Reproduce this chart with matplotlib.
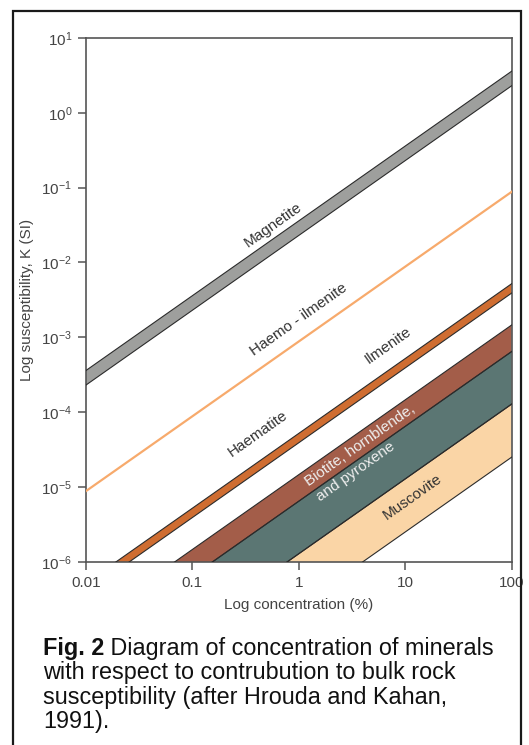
import matplotlib
matplotlib.use("Agg")
import matplotlib.pyplot as plt
from matplotlib.patches import Rectangle
import numpy as np

plt.rcParams["font.family"] = ["Liberation Sans", "DejaVu Sans"]
plt.rcParams["mathtext.fontset"] = "custom"
plt.rcParams["mathtext.rm"] = "Liberation Sans"
plt.rcParams["mathtext.it"] = "Liberation Sans:italic"
plt.rcParams["mathtext.bf"] = "Liberation Sans:bold"
plt.rcParams["axes.unicode_minus"] = False

# susceptibility of each mineral at 100 % concentration (edges of the bands)
magnetite_k = (2.3, 3.6)
haemo_ilmenite_k = 0.088
ilmenite_k = (3.9e-3, 5.2e-3)
biotite_k = (6.45e-4, 1.46e-3)
hornblende_k = (1.28e-4, 6.45e-4)
muscovite_k = (2.5e-5, 1.28e-4)

x_ticks = [0.01, 0.1, 1, 10, 100]
x_tick_labels = ["0.01", "0.1", "1", "10", "100"]
y_ticks = [1e-6, 1e-5, 1e-4, 1e-3, 1e-2, 1e-1, 1e0, 1e1]

# label positions (concentration, K)
labels = [
    ("Magnetite", 0.57, 0.032, "#333333"),
    ("Haemo - ilmenite", 1.0, 1.74e-3, "#333333"),
    ("Ilmenite", 6.9, 7.8e-4, "#333333"),
    ("Haematite", 0.414, 5.1e-5, "#333333"),
    ("Biotite, hornblende,\nand pyroxene", 4.28, 2.84e-5, "#eeeeee"),
    ("Muscovite", 11.8, 7.4e-6, "#333333"),
]

edge = "#2b2b2b"
axis_col = "#555555"
fs = 11

fig = plt.figure(figsize=(5.29, 7.45), dpi=100)
ax = fig.add_axes([0.1626, 0.246, 0.8047, 0.703])

c = np.logspace(-2, 2, 200)


def band(k_lo, k_hi, color):
    lo = k_lo * c / 100
    hi = k_hi * c / 100
    ax.fill_between(c, lo, hi, facecolor=color, edgecolor="none", zorder=2)
    ax.plot(c, lo, color=edge, lw=0.8, zorder=3)
    ax.plot(c, hi, color=edge, lw=0.8, zorder=3)


band(*magnetite_k, "#9e9f9d")
ax.plot(c, haemo_ilmenite_k * c / 100, color="#f7aa6c", lw=1.6, zorder=3)
band(*ilmenite_k, "#cf6d31")
band(*muscovite_k, "#fad5a6")
band(*hornblende_k, "#5b7673")
band(*biotite_k, "#a35d49")

ax.set_xscale("log")
ax.set_yscale("log")
ax.set_xlim(0.01, 100)
ax.set_ylim(1e-6, 10)
ax.set_xticks(x_ticks)
ax.set_xticklabels(x_tick_labels)
ax.set_yticks(y_ticks)
ax.minorticks_off()

for s in ax.spines.values():
    s.set_color(axis_col)
    s.set_linewidth(1.2)
ax.tick_params(length=6, width=1.1, color=axis_col, labelcolor="#444444",
               labelsize=fs, pad=4)
ax.set_xlabel("Log concentration (%)", fontsize=fs, color="#444444",
              labelpad=6)
ax.set_ylabel("Log susceptibility, K (SI)", fontsize=fs, color="#444444",
              labelpad=5)

for text, x, y, col in labels:
    ax.text(x, y, text, rotation=35.2, rotation_mode="anchor", ha="center",
            va="center", multialignment="left", fontsize=fs, color=col,
            linespacing=1.5, zorder=5)

# frame around figure + caption
fig.patches.append(Rectangle((13 / 529, -0.05), 508 / 529, 1 - 11 / 745 + 0.05,
                             transform=fig.transFigure, fill=False,
                             edgecolor="#1a1a1a", lw=1.6))

cap_x = 43 / 529
cap_lines = [
    "with respect to contrubution to bulk rock",
    "susceptibility (after Hrouda and Kahan,",
    "1991).",
]
t0 = fig.text(cap_x, 1 - 648 / 745, "Fig. 2", fontsize=16.8,
              fontweight="bold", va="center", color="#111111")
fig.canvas.draw()
bb = t0.get_window_extent()
fig.text(bb.x1 / fig.bbox.width, 1 - 648 / 745,
         " Diagram of concentration of minerals", fontsize=16.8,
         va="center", color="#111111")
for i, line in enumerate(cap_lines):
    fig.text(cap_x, 1 - (648 + 24.6 * (i + 1)) / 745, line, fontsize=16.8,
             va="center", color="#111111")

fig.savefig("out.png", dpi=100)
